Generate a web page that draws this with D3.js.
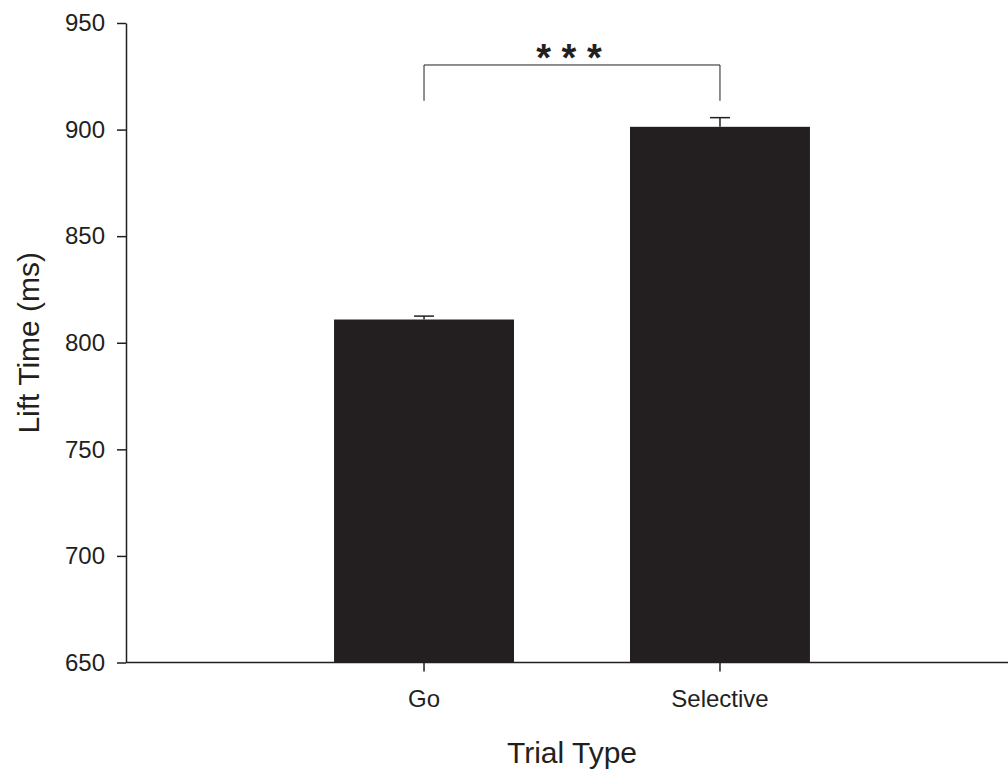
<!DOCTYPE html>
<html>
<head>
<meta charset="utf-8">
<script src="https://cdn.jsdelivr.net/npm/d3@7"></script>
<style>
  body { margin: 0; background: #fff; }
  text { font-family: "Liberation Sans", Arial, sans-serif; fill: #231f20; }
  .axis path, .axis line { stroke: #231f20; stroke-width: 1.5; }
</style>
</head>
<body>
<svg id="chart"></svg>
<script>
// data
const categories = ['Go', 'Selective'];
const means = [810.9, 901.3];
const sem = [1.6, 4.3];
const yTicks = [650, 700, 750, 800, 850, 900, 950];
const sigBracket = { from: 'Go', to: 'Selective', low: 913.5, high: 930.3, label: '* * *' };

const width = 1008, height = 774;
const margin = { top: 23, right: -10, bottom: 111.5, left: 126 };

const svg = d3.select('#chart')
  .attr('width', width)
  .attr('height', height);

const x = d3.scaleBand()
  .domain(categories)
  .range([margin.left, width - margin.right])
  .paddingInner(0.392)
  .paddingOuter(0.703);

const y = d3.scaleLinear()
  .domain([650, 950])
  .range([height - margin.bottom, margin.top]);

const cx = c => x(c) + x.bandwidth() / 2;

// bars
svg.selectAll('.bar')
  .data(categories)
  .enter()
  .append('rect')
  .attr('class', 'bar')
  .attr('x', d => x(d))
  .attr('y', (d, i) => y(means[i]))
  .attr('width', x.bandwidth())
  .attr('height', (d, i) => y(650) - y(means[i]))
  .attr('fill', '#231f20');

// error bars (upper only)
const err = svg.selectAll('.err')
  .data(categories)
  .enter()
  .append('g')
  .attr('class', 'err')
  .attr('stroke', '#231f20')
  .attr('stroke-width', 1.5);

err.append('line')
  .attr('x1', d => cx(d)).attr('x2', d => cx(d))
  .attr('y1', (d, i) => y(means[i]))
  .attr('y2', (d, i) => y(means[i] + sem[i]));

err.append('line')
  .attr('x1', d => cx(d) - 10).attr('x2', d => cx(d) + 10)
  .attr('y1', (d, i) => y(means[i] + sem[i]))
  .attr('y2', (d, i) => y(means[i] + sem[i]));

// axes
const yAxis = d3.axisLeft(y).tickValues(yTicks).tickSize(9).tickPadding(12).tickSizeOuter(0);
const yAxisG = svg.append('g')
  .attr('class', 'axis')
  .attr('transform', `translate(${margin.left},0)`)
  .call(yAxis);
yAxisG.selectAll('text').style('font-size', '24px').attr('fill', '#231f20');

const xAxis = d3.axisBottom(x).tickSize(9).tickPadding(18).tickSizeOuter(0);
const xAxisG = svg.append('g')
  .attr('class', 'axis')
  .attr('transform', `translate(0,${y(650)})`)
  .call(xAxis);
xAxisG.select('.domain').attr('d', `M${margin.left},0H${width + 10}`);
xAxisG.selectAll('text').style('font-size', '24px').attr('fill', '#231f20');

// axis titles
svg.append('text')
  .attr('x', (cx('Go') + cx('Selective')) / 2)
  .attr('y', 763)
  .attr('text-anchor', 'middle')
  .style('font-size', '30px')
  .text('Trial Type');

svg.append('text')
  .attr('transform', `translate(39,${(y(650) + y(950)) / 2}) rotate(-90)`)
  .attr('text-anchor', 'middle')
  .style('font-size', '30px')
  .text('Lift Time (ms)');

// significance bracket
svg.append('path')
  .attr('fill', 'none')
  .attr('stroke', '#231f20')
  .attr('stroke-width', 1)
  .attr('d', `M${cx(sigBracket.from)},${y(sigBracket.low)}V${y(sigBracket.high)}H${cx(sigBracket.to)}V${y(sigBracket.low)}`);

svg.append('text')
  .attr('x', (cx(sigBracket.from) + cx(sigBracket.to)) / 2 - 3)
  .attr('y', y(sigBracket.high) + 6)
  .attr('text-anchor', 'middle')
  .style('font-size', '38px')
  .style('font-weight', 'bold')
  .text(sigBracket.label);
</script>
</body>
</html>
